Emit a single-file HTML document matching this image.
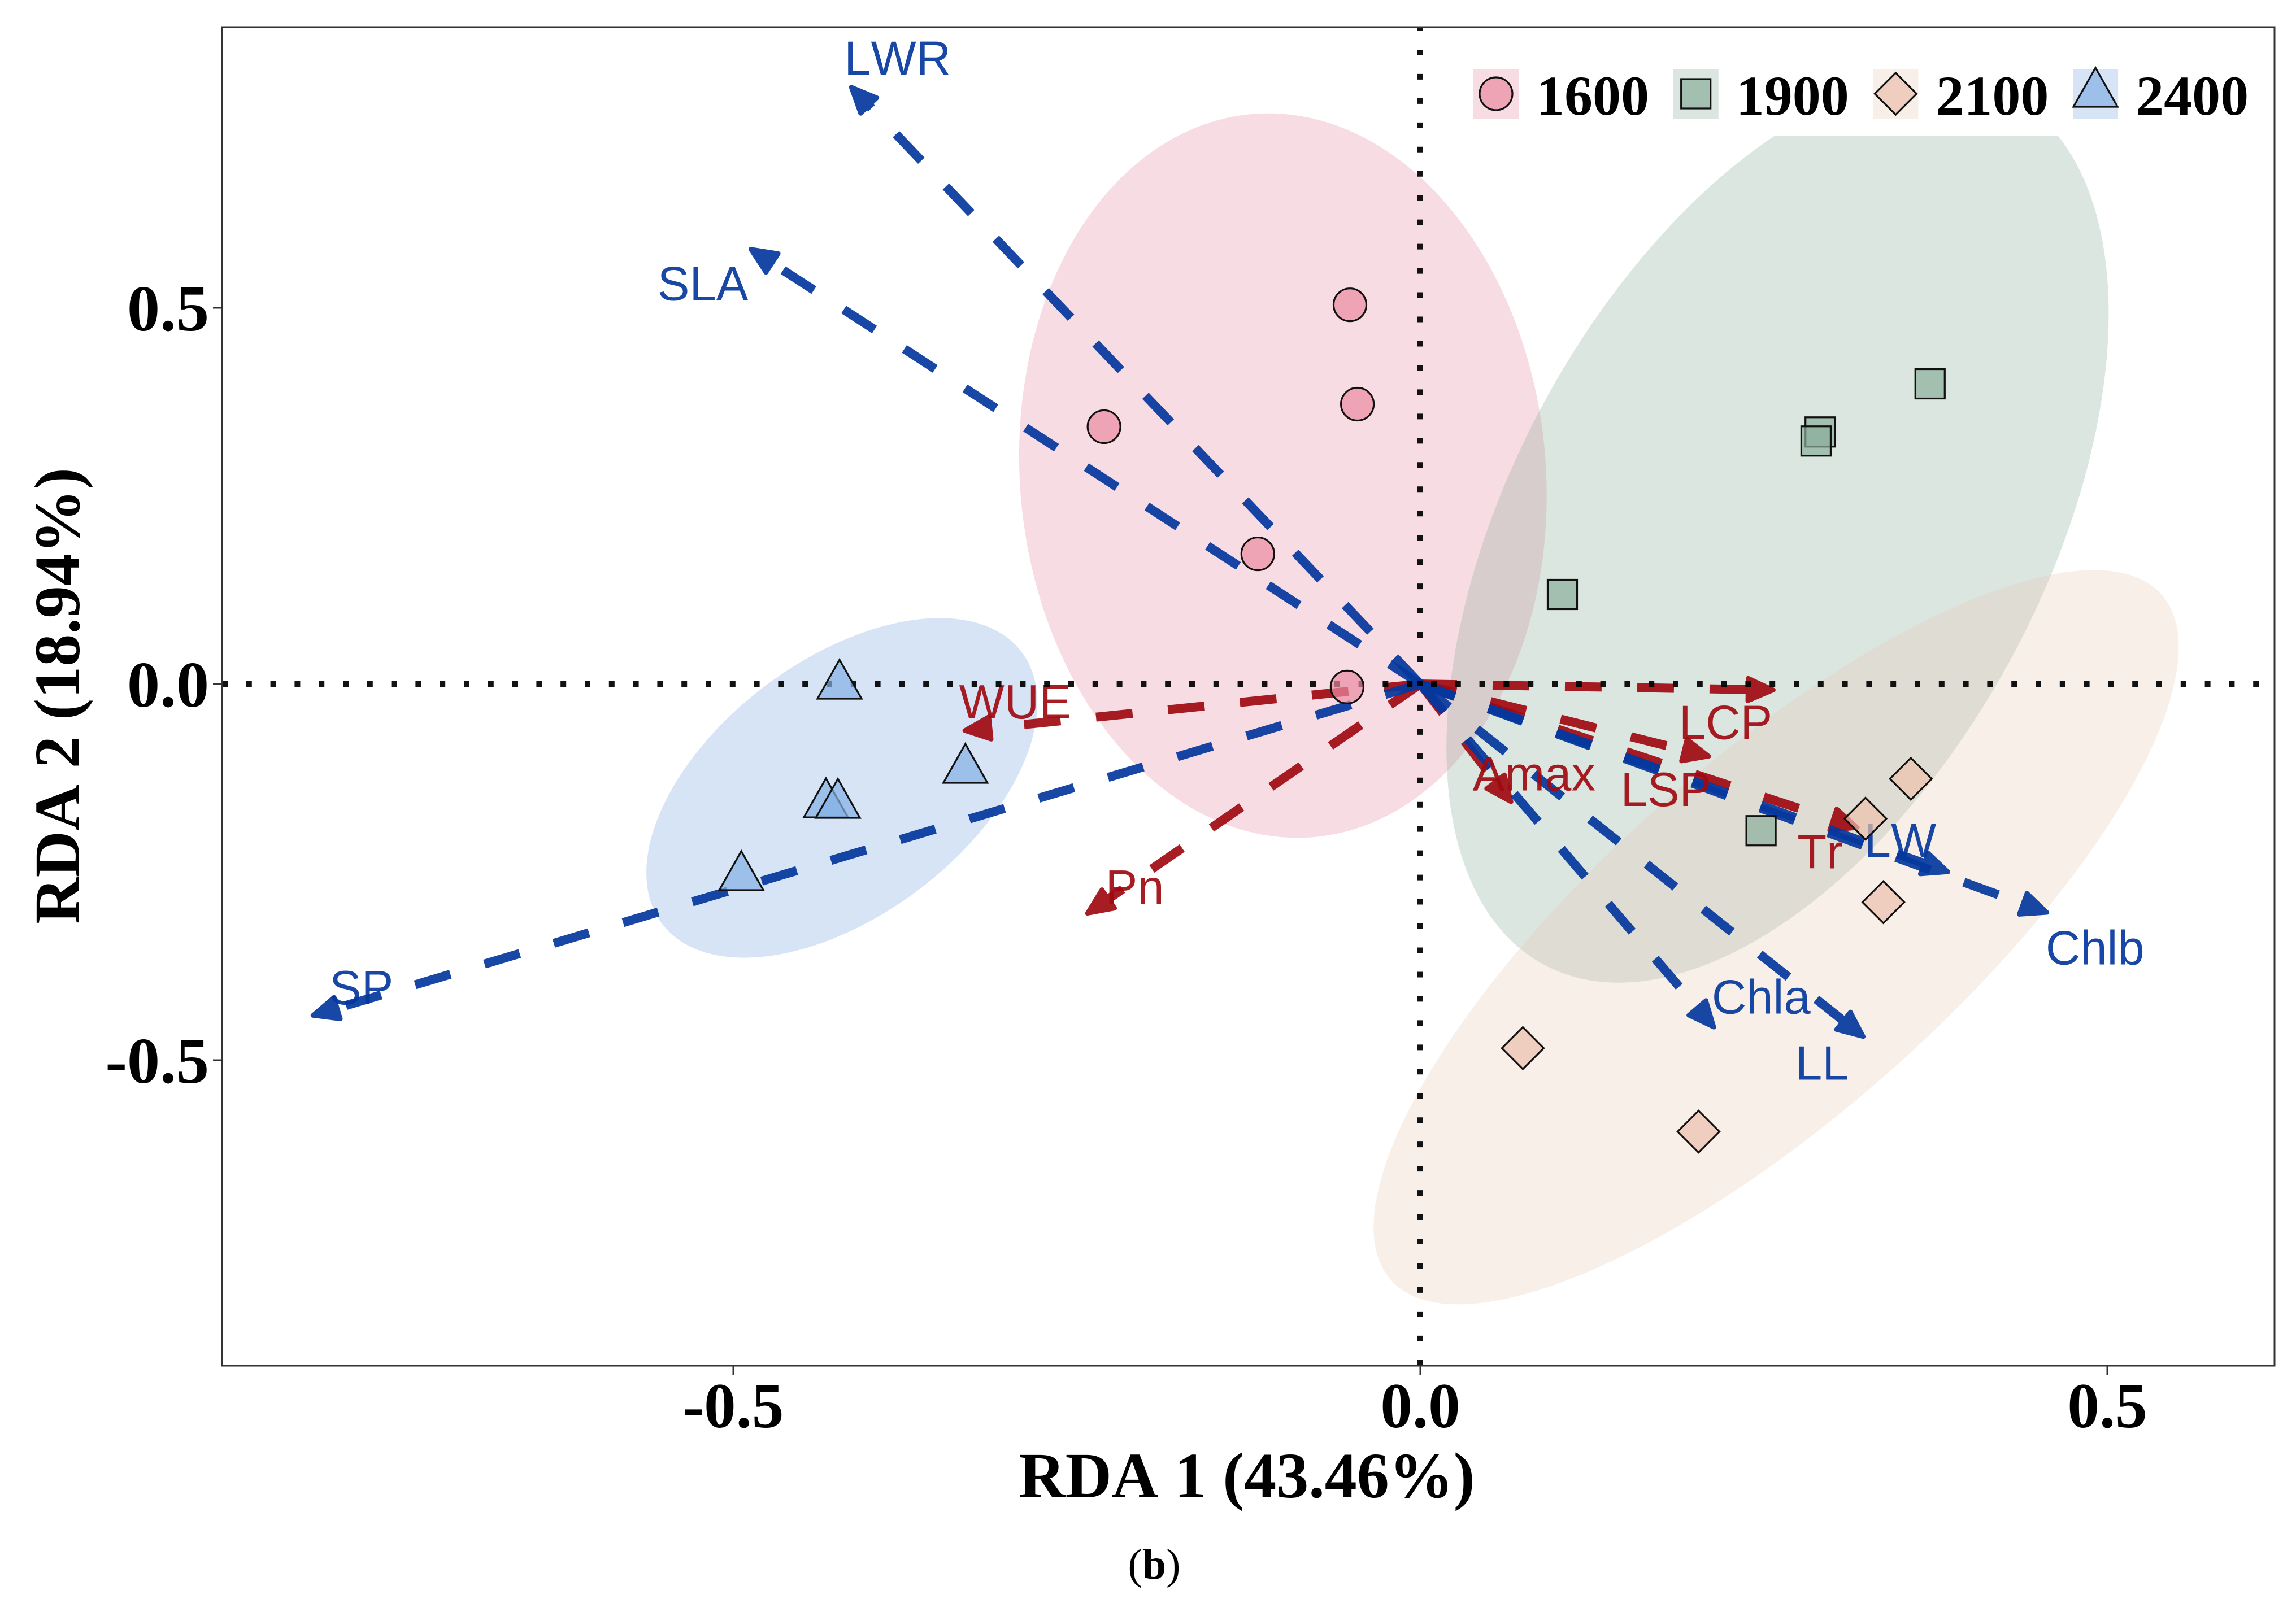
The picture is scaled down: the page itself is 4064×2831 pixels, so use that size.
<!DOCTYPE html>
<html lang="en">
<head>
<meta charset="utf-8">
<title>RDA biplot</title>
<style>
html,body{margin:0;padding:0;background:#fff;}
svg{display:block;}
.serif{font-family:"Liberation Serif",serif;font-weight:bold;fill:#000;font-kerning:none;}
.sans{font-family:"Liberation Sans",sans-serif;font-size:85px;font-kerning:none;}
</style>
</head>
<body>
<svg id="chart" xmlns="http://www.w3.org/2000/svg" width="4064" height="2831" viewBox="0 0 4064 2831">
  <defs><clipPath id="panel-clip"><rect x="393" y="48" width="3633" height="2370"/></clipPath></defs>
  <rect width="4064" height="2831" fill="#fff"/>
  <g id="plot" clip-path="url(#panel-clip)"></g>
  <g id="axes"></g>
  <g id="legend"></g>
  <text class="serif" x="2207" y="2651" font-size="114" text-anchor="middle">RDA 1 (43.46%)</text>
  <text class="serif" transform="translate(140,1232) rotate(-90)" font-size="114" text-anchor="middle">RDA 2 (18.94%)</text>
  <text x="2043" y="2795" font-size="76" text-anchor="middle" font-family="'Liberation Serif',serif" fill="#000">(<tspan font-weight="bold">b</tspan>)</text>
</svg>
<script>
// ---- chart data (RDA axis units) ----
const groups = ['1600', '1900', '2100', '2400'];
const x1600 = [-0.0512, -0.0458, -0.2302, -0.1183, -0.0533];
const y1600 = [0.504, 0.372, 0.342, 0.173, -0.004];
const x1900 = [0.371, 0.291, 0.288, 0.1034, 0.248];
const y1900 = [0.399, 0.335, 0.323, 0.119, -0.195];
const x2100 = [0.357, 0.324, 0.337, 0.0746, 0.2025];
const y2100 = [-0.126, -0.179, -0.290, -0.484, -0.595];
const x2400 = [-0.4227, -0.3311, -0.4326, -0.4239, -0.4942];
const y2400 = [0.0045, -0.1074, -0.1532, -0.1539, -0.2500];

// ellipse summaries per group: centre, half extents, correlation
const ellipseCenterX = [-0.100, 0.260, 0.259, -0.421];
const ellipseCenterY = [0.277, 0.204, -0.3366, -0.1381];
const ellipseHalfX = [0.192, 0.241, 0.293, 0.1423];
const ellipseHalfY = [0.4815, 0.601, 0.488, 0.2257];
const ellipseRho = [-0.055, 0.48, 0.79, 0.50];

const blueTraits = ['LWR', 'SLA', 'SP', 'Chlb', 'LW', 'Chla', 'LL'];
const blueX = [-0.4156, -0.489, -0.808, 0.458, 0.386, 0.215, 0.324];
const blueY = [0.796, 0.580, -0.4416, -0.305, -0.251, -0.459, -0.471];
const redTraits = ['WUE', 'Pn', 'LCP', 'Amax', 'LSP', 'Tr'];
const redX = [-0.3336, -0.244, 0.259, 0.0673, 0.212, 0.320];
const redY = [-0.0623, -0.307, -0.008, -0.1596, -0.097, -0.192];

const xTicks = [-0.5, 0, 0.5];
const xTickLabels = ['-0.5', '0.0', '0.5'];
const yTicks = [0.5, 0, -0.5];
const yTickLabels = ['0.5', '0.0', '-0.5'];

// ---- axis functions ----
const NS = 'http://www.w3.org/2000/svg';
const LEFT = 393, RIGHT = 4026, TOP = 48, BOTTOM = 2418;
function sx(v) { return 2514 + 2432 * v; }
function sy(v) { return 1211 - 1332 * v; }

// ---- styling ----
const BLUE = '#05389e';
const RED = '#a00a12';
const ellipseColors = ['#E88AA2', '#87AC98', '#E7CAB6', '#76A5DE'];
const markerColors = ['#EB8BA1', '#8AAE9A', '#EDC1AD', '#83B1E5'];
const labelOffsets = {
  LWR: [-9, -18], SLA: [-161, 93], SP: [34, -21], Chlb: [-7, 90], LW: [-153, -28],
  Chla: [-7, -28], LL: [-124, 73], WUE: [-5, -22], Pn: [36, -20], LCP: [-172, 87],
  Amax: [-71, -24], LSP: [-161, 87], Tr: [-111, 71]
};

function make(tag, attrs, parent, txt) {
  const el = document.createElementNS(NS, tag);
  for (const k in attrs) el.setAttribute(k, attrs[k]);
  if (txt !== undefined) el.textContent = txt;
  parent.appendChild(el);
  return el;
}

const plot = document.getElementById('plot');
const axes = document.getElementById('axes');
const legend = document.getElementById('legend');

function drawMarker(kind, cx, cy, color, parent) {
  const common = { fill: color, 'fill-opacity': 0.7, stroke: '#111', 'stroke-width': 3.2 };
  if (kind === 0) return make('circle', Object.assign({ cx: cx, cy: cy, r: 29 }, common), parent);
  if (kind === 1) return make('rect', Object.assign({ x: cx - 26, y: cy - 26, width: 52, height: 52 }, common), parent);
  if (kind === 2) return make('polygon', Object.assign({ points: [cx, cy - 37, cx + 37, cy, cx, cy + 37, cx - 37, cy].join(' ') }, common), parent);
  return make('polygon', Object.assign({ points: [cx, cy - 37, cx + 39, cy + 32, cx - 39, cy + 32].join(' ') }, common), parent);
}

// ellipses
groups.forEach(function (g, i) {
  const pts = [];
  const r = ellipseRho[i], q = Math.sqrt(1 - r * r);
  for (let k = 0; k < 180; k++) {
    const t = k / 180 * 2 * Math.PI;
    const dx = Math.cos(t), dy = r * Math.cos(t) + q * Math.sin(t);
    const px = sx(ellipseCenterX[i] + ellipseHalfX[i] * dx);
    const py = sy(ellipseCenterY[i] + ellipseHalfY[i] * dy);
    pts.push(px.toFixed(1) + ',' + py.toFixed(1));
  }
  const e = make('polygon', { points: pts.join(' '), fill: ellipseColors[i], 'fill-opacity': 0.3 }, plot);
  
  
});

// arrows + labels
function drawArrow(name, x, y, color) {
  const tx = sx(x), ty = sy(y), ox = sx(0), oy = sy(0);
  const len = Math.hypot(tx - ox, ty - oy) || 1;
  const ux = (tx - ox) / len, uy = (ty - oy) / len;
  const g = make('g', { opacity: 0.92 }, plot);
  
  
  make('line', { x1: ox, y1: oy, x2: tx - ux * 20, y2: ty - uy * 20, stroke: color, 'stroke-width': 16, 'stroke-dasharray': '65 63' }, g);
  const ax = tx - ux * 5, ay = ty - uy * 5;
  const bx = tx - ux * 50, by = ty - uy * 50;
  make('polygon', { points: [ax, ay, bx - uy * 20, by + ux * 20, bx + uy * 20, by - ux * 20].join(' '), fill: color, stroke: color, 'stroke-width': 8, 'stroke-linejoin': 'round' }, g);
}
function drawLabel(name, x, y, color) {
  const off = labelOffsets[name];
  const t = make('text', { x: sx(x) + off[0], y: sy(y) + off[1], fill: color, class: 'sans', opacity: 0.92 }, plot, name);
  
  
}
redTraits.forEach(function (n, i) { drawArrow(n, redX[i], redY[i], RED); });
blueTraits.forEach(function (n, i) { drawArrow(n, blueX[i], blueY[i], BLUE); });
redTraits.forEach(function (n, i) { drawLabel(n, redX[i], redY[i], RED); });
blueTraits.forEach(function (n, i) { drawLabel(n, blueX[i], blueY[i], BLUE); });

// reference lines
const hline = make('line', { x1: LEFT, x2: RIGHT, y1: sy(0), y2: sy(0), stroke: '#000', 'stroke-width': 10, 'stroke-dasharray': '10 32.8', opacity: 0.92 }, plot);


const vline = make('line', { x1: sx(0), x2: sx(0), y1: 45, y2: BOTTOM, stroke: '#000', 'stroke-width': 10, 'stroke-dasharray': '10 32.96', opacity: 0.92 }, plot);



// points
const seriesX = [x1600, x1900, x2100, x2400];
const seriesY = [y1600, y1900, y2100, y2400];
groups.forEach(function (g, i) {
  seriesX[i].forEach(function (v, j) {
    const m = drawMarker(i, sx(v), sy(seriesY[i][j]), markerColors[i], plot);
    
    
  });
});

// panel border and ticks
const border = make('rect', { x: LEFT, y: TOP, width: RIGHT - LEFT, height: BOTTOM - TOP, fill: 'none', stroke: '#333', 'stroke-width': 3 }, axes);


xTicks.forEach(function (v, i) {
  const tick = make('line', { x1: sx(v), x2: sx(v), y1: BOTTOM, y2: BOTTOM + 16, stroke: '#333', 'stroke-width': 3 }, axes);
  
  
  const lab = make('text', { x: sx(v), y: 2527, 'font-size': 113, 'text-anchor': 'middle', class: 'serif' }, axes, xTickLabels[i]);
  
  
});
yTicks.forEach(function (v, i) {
  const tick = make('line', { x1: LEFT - 16, x2: LEFT, y1: sy(v), y2: sy(v), stroke: '#333', 'stroke-width': 3 }, axes);
  
  
  const lab = make('text', { x: 370, y: sy(v) + 40, 'font-size': 116, 'text-anchor': 'end', class: 'serif' }, axes, yTickLabels[i]);
  
  
});

// legend
const legendBg = make('rect', { x: 2590, y: 52, width: 1433, height: 188, fill: '#fff' }, legend);


groups.forEach(function (g, i) {
  const kx = 2608 + i * 353.7;
  const entry = make('g', {}, legend);
  
  
  make('rect', { x: kx, y: 122, width: 80, height: 88, fill: ellipseColors[i], 'fill-opacity': 0.3 }, entry);
  const sym = drawMarker(i, kx + 40, i === 3 ? 157 : 166, markerColors[i], entry);
  
  
  const t = make('text', { x: kx + 111, y: 203, 'font-size': 100, class: 'serif' }, entry, g);
  
  
});
</script>
</body>
</html>
